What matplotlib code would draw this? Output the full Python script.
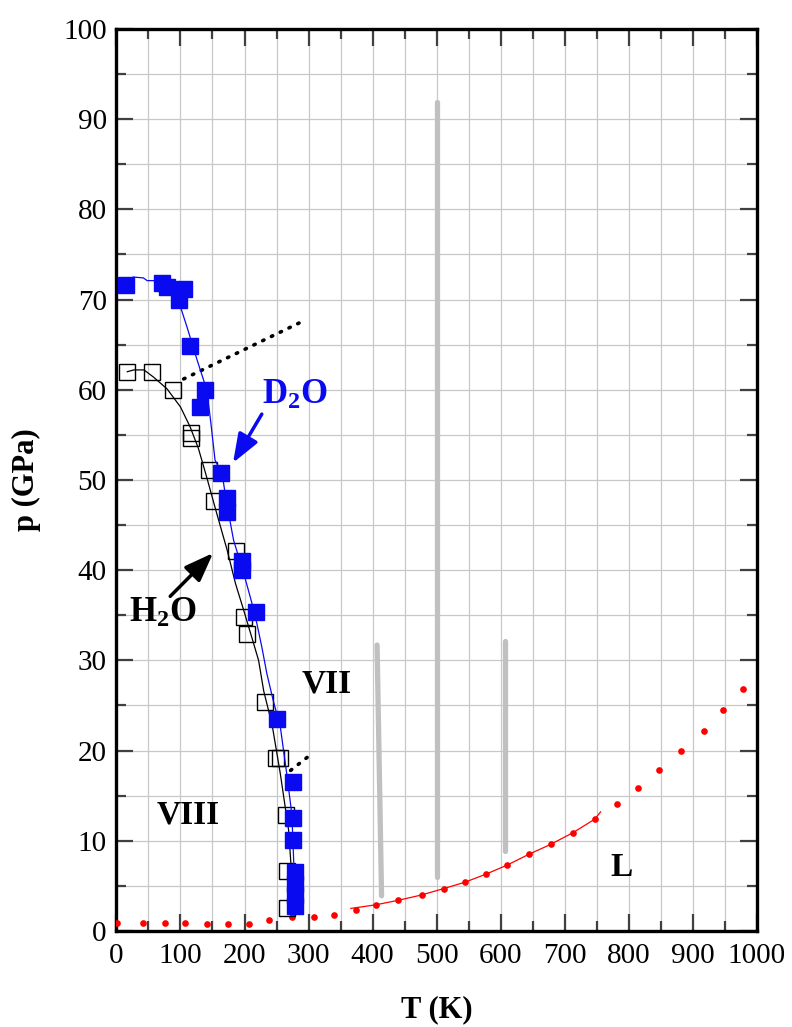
import matplotlib
matplotlib.use('Agg')
import matplotlib.pyplot as plt
from matplotlib.ticker import MultipleLocator

plt.rcParams['font.family'] = ['Liberation Serif', 'DejaVu Serif']
plt.rcParams['mathtext.fontset'] = 'custom'
plt.rcParams['mathtext.rm'] = 'Liberation Serif'
plt.rcParams['mathtext.bf'] = 'Liberation Serif:bold'

# D2O data (filled blue squares)
d2o_T = [15, 71, 79, 105, 97, 115, 139, 130, 164, 172, 172, 196, 196, 218,
         251, 275, 275, 275, 279, 279, 279, 279]
d2o_p = [71.6, 71.8, 71.4, 71.2, 69.9, 64.9, 60.0, 58.1, 50.8, 48.0, 46.5, 41.0,
         40.0, 35.4, 23.5, 16.5, 12.5, 10.1, 6.5, 5.2, 4.0, 2.8]
# D2O guide line
d2o_line_T = [15, 26, 42, 48, 61, 72, 84, 100, 110, 126, 141, 147, 154, 165, 172,
              183, 199, 216, 227, 235, 245, 256, 266, 274, 277, 278]
d2o_line_p = [71.6, 72.5, 72.4, 72.1, 72.1, 71.6, 70.7, 69.2, 67.0, 63.3, 60.0, 56.6,
              52.2, 50.7, 47.5, 43.3, 39.6, 35.2, 31.5, 28.5, 25.5, 22.6, 17.4, 12.9,
              7.4, 2.5]

# H2O data (open squares)
h2o_T = [17, 56, 88, 116, 117, 144, 152, 186, 199, 204, 232, 249, 255, 265, 267, 267]
h2o_p = [62.0, 62.0, 60.0, 55.2, 54.6, 51.1, 47.7, 42.1, 34.8, 32.9, 25.4, 19.2,
         19.2, 12.9, 6.7, 2.6]
# H2O guide line
h2o_line_T = [17, 27, 43, 58, 79, 100, 115, 128, 141, 157, 173, 186, 199, 212, 222,
              230, 243, 256, 269, 272.5, 272.5]
h2o_line_p = [62.0, 62.2, 62.2, 61.4, 60.1, 58.1, 55.9, 53.5, 50.3, 46.2, 42.2, 38.5,
              35.5, 32.4, 30.0, 26.6, 22.9, 17.4, 11.1, 7.4, 1.9]

# dotted boundaries
dot_up_T = [105, 291]
dot_up_p = [61.2, 67.6]
dot_lo_T = [272, 306]
dot_lo_p = [17.8, 19.7]

# melting curve (red)
melt_T = [1, 41, 76, 107, 141, 174, 207, 238, 274, 308, 340, 374, 405, 440, 477,
          511, 544, 577, 610, 644, 678, 713, 747, 781, 815, 848, 881, 917, 947, 979]
melt_p = [0.9, 0.9, 0.9, 0.9, 0.8, 0.8, 0.8, 1.2, 1.5, 1.5, 1.8, 2.3, 2.9, 3.4, 4.0,
          4.7, 5.4, 6.3, 7.3, 8.5, 9.6, 10.9, 12.4, 14.1, 15.8, 17.8, 19.9, 22.2,
          24.5, 26.8]
melt_line_T = [366, 405, 440, 477, 511, 544, 577, 610, 644, 678, 713, 747, 756]
melt_line_p = [2.5, 2.9, 3.4, 4.0, 4.7, 5.4, 6.3, 7.3, 8.5, 9.6, 10.9, 12.4, 13.2]

# gray bars (T, p_low, p_high)
bars_T = [[407, 414], [500, 500], [607, 607]]
bars_p = [[31.7, 3.9], [91.9, 6.0], [32.2, 8.9]]

fig = plt.figure(figsize=(7.92, 10.27), dpi=100)
ax = fig.add_axes([0.147, 0.0935, 0.8086, 0.8783])

blue = '#0a0af0'

for bt, bp in zip(bars_T, bars_p):
    ax.plot(bt, bp, color='#c0c0c0', lw=3.8, solid_capstyle='round', zorder=2)

ax.plot(melt_line_T, melt_line_p, color='red', lw=0.9, zorder=3)
ax.plot(melt_T, melt_p, 'o', color='red', ms=4.8, mew=0, zorder=3)

ax.plot(dot_up_T, dot_up_p, color='black', lw=2.6, linestyle=(0, (0.4, 2.3)),
        dash_capstyle='round', zorder=3)
ax.plot(dot_lo_T, dot_lo_p, color='black', lw=2.6, linestyle=(0, (0.4, 2.3)),
        dash_capstyle='round', zorder=3)

ax.plot(h2o_line_T, h2o_line_p, color='black', lw=0.9, zorder=4)
ax.plot(h2o_T, h2o_p, 's', ms=11, mfc='none', mec='black', mew=1.0, zorder=4)

ax.plot(d2o_line_T, d2o_line_p, color=blue, lw=0.9, zorder=5)
ax.plot(d2o_T, d2o_p, 's', ms=11.5, color=blue, mec=blue, zorder=5)

# annotations
ax.annotate('', xy=(182, 51.9), xytext=(227, 57.3),
            arrowprops=dict(arrowstyle='-|>,head_width=0.3,head_length=0.8',
                            color=blue, lw=2.5, mutation_scale=22,
                            shrinkA=0, shrinkB=0), zorder=6)
ax.annotate('', xy=(151, 41.9), xytext=(84, 37.1),
            arrowprops=dict(arrowstyle='-|>,head_width=0.3,head_length=0.8',
                            color='black', lw=2.5, mutation_scale=22,
                            shrinkA=0, shrinkB=0), zorder=6)
ax.text(228, 58.4, r'$\mathbf{D_2O}$', color=blue, fontsize=25, ha='left',
        va='baseline', zorder=6)
ax.text(20, 34.3, r'$\mathbf{H_2O}$', color='black', fontsize=25, ha='left',
        va='baseline', zorder=6)
ax.text(328, 27.4, 'VII', fontsize=24, fontweight='bold', ha='center', va='center')
ax.text(112, 12.9, 'VIII', fontsize=24, fontweight='bold', ha='center', va='center')
ax.text(789, 7.0, 'L', fontsize=24, fontweight='bold', ha='center', va='center')

ax.set_xlim(0, 1000)
ax.set_ylim(0, 100)
ax.xaxis.set_major_locator(MultipleLocator(100))
ax.xaxis.set_minor_locator(MultipleLocator(50))
ax.yaxis.set_major_locator(MultipleLocator(10))
ax.yaxis.set_minor_locator(MultipleLocator(5))
ax.grid(which='both', color='#c8c8c8', lw=0.9, zorder=0)
ax.set_axisbelow(True)
ax.tick_params(which='both', direction='in', top=True, right=True,
               width=1.6, color='#404040', labelsize=21)
ax.tick_params(which='major', length=12)
ax.tick_params(which='minor', length=7)
ax.tick_params(axis='x', pad=9)
ax.tick_params(axis='y', pad=7)
for s in ax.spines.values():
    s.set_linewidth(2.4)

ax.set_xlabel('T (K)', fontsize=22, fontweight='bold')
ax.set_ylabel('p (GPa)', fontsize=22, fontweight='bold')
ax.xaxis.set_label_coords(0.5, -0.071)
ax.yaxis.set_label_coords(-0.117, 0.5)

fig.savefig('out.png', dpi=100)
